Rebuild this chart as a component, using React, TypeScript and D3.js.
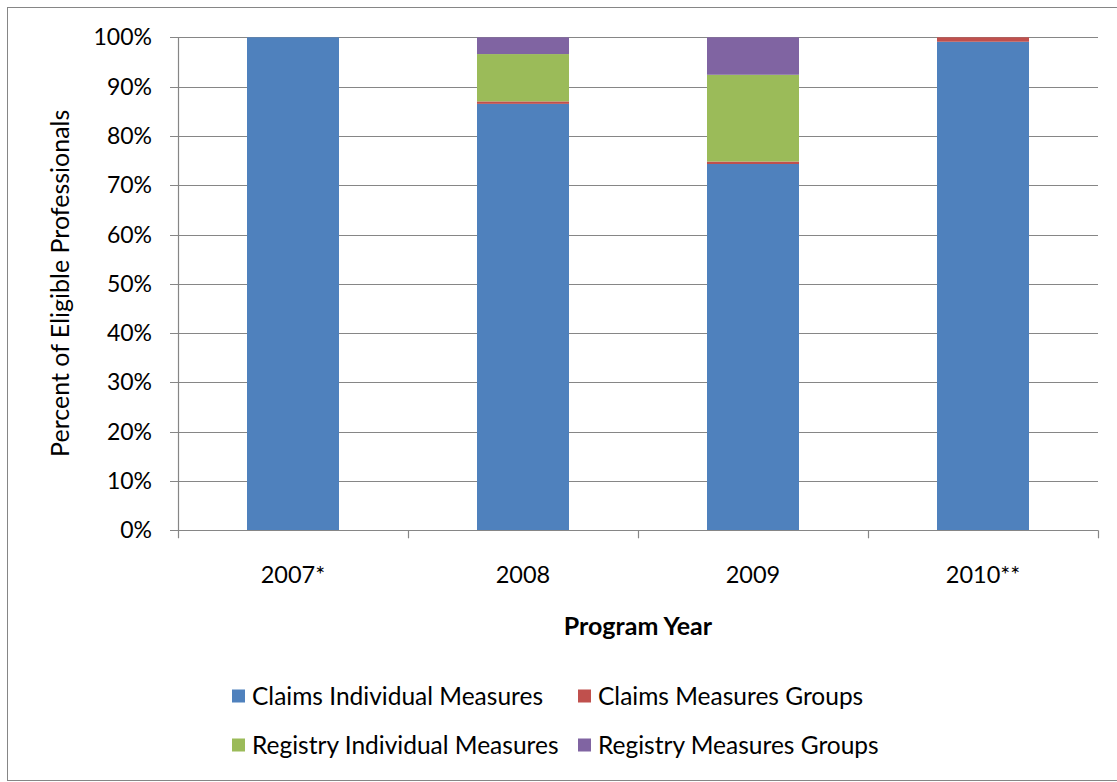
import * as d3 from 'd3';

const years = ['2007*', '2008', '2009', '2010**'];
const seriesNames = [
  'Claims Individual Measures',
  'Claims Measures Groups',
  'Registry Individual Measures',
  'Registry Measures Groups',
];
const claimsIndividual = [100, 86.5, 74.3, 99.1];
const claimsGroups = [0, 0.5, 0.5, 0.9];
const registryIndividual = [0, 9.6, 17.6, 0];
const registryGroups = [0, 3.4, 7.6, 0];
const yTicks = [0, 10, 20, 30, 40, 50, 60, 70, 80, 90, 100];
const colors = ['#4F81BD', '#C0504D', '#9BBB59', '#8064A2'];

const W = 1117;
const H = 782;
const font = 'Lato, "Open Sans", sans-serif';

export default function App() {
  const left = 178;
  const right = 1098;
  const top = 37.3;
  const bottom = 530.3;

  const x = d3.scaleBand<string>().domain(years).range([left, right]).paddingInner(0.6).paddingOuter(0.3);
  const xTick = d3.scaleBand<string>().domain(years).range([left, right]);
  const y = d3.scaleLinear().domain([0, 100]).range([bottom, top]);

  const rows = years.map((yr, i) => ({
    year: yr,
    ci: claimsIndividual[i],
    cg: claimsGroups[i],
    ri: registryIndividual[i],
    rg: registryGroups[i],
  }));
  const keys = ['ci', 'cg', 'ri', 'rg'];
  const stacked = d3.stack<any>().keys(keys)(rows);

  const legendItems = [
    { name: seriesNames[0], color: colors[0], lx: 232, ly: 696 },
    { name: seriesNames[1], color: colors[1], lx: 578, ly: 696 },
    { name: seriesNames[2], color: colors[2], lx: 232, ly: 745 },
    { name: seriesNames[3], color: colors[3], lx: 578, ly: 745 },
  ];

  return (
    <div style={{ position: 'absolute', left: 0, top: 0 }}>
      <svg width={W} height={H} style={{ display: 'block', fontFamily: font }}>
        <rect x={0} y={0} width={W} height={H} fill="#fff" />
        <rect x={7.5} y={7.5} width={W + 20} height={773} fill="none" stroke="#868686" strokeWidth={1} />

        {yTicks.map((t) => (
          <g key={t}>
            <line x1={170} x2={right} y1={Math.round(y(t)) + 0.5} y2={Math.round(y(t)) + 0.5} stroke="#868686" strokeWidth={1.2} />
            <text x={152} y={y(t)} dy="0.35em" textAnchor="end" fontSize={23} fill="#000">
              {t}%
            </text>
          </g>
        ))}

        {stacked.map((layer, si) =>
          layer.map((d, i) => {
            const h = y(d[0]) - y(d[1]);
            if (h <= 0) return null;
            return (
              <rect
                key={`${si}-${i}`}
                x={x(years[i])}
                y={y(d[1])}
                width={x.bandwidth()}
                height={h}
                fill={colors[si]}
              />
            );
          })
        )}

        <line x1={left + 0.5} x2={left + 0.5} y1={top} y2={bottom + 8} stroke="#868686" strokeWidth={1.2} />
        <line x1={left} x2={right} y1={Math.round(bottom) + 0.5} y2={Math.round(bottom) + 0.5} stroke="#868686" strokeWidth={1.2} />
        {years.map((yr) => (
          <line key={yr} x1={(xTick(yr) as number) + xTick.bandwidth() + 0.5} x2={(xTick(yr) as number) + xTick.bandwidth() + 0.5} y1={bottom} y2={bottom + 8} stroke="#868686" strokeWidth={1.2} />
        ))}
        {years.map((yr) => (
          <text key={yr} x={(xTick(yr) as number) + xTick.bandwidth() / 2} y={575} dy="0.35em" textAnchor="middle" fontSize={23.5} fill="#000">
            {yr}
          </text>
        ))}

        <text x={(left + right) / 2} y={626} dy="0.35em" textAnchor="middle" fontSize={25} fontWeight="bold" fill="#000">
          Program Year
        </text>
        <text transform={`translate(60, ${(top + bottom) / 2 - 0.5}) rotate(-90)`} dy="0.35em" textAnchor="middle" fontSize={25} fill="#000">
          Percent of Eligible Professionals
        </text>

        {legendItems.map((it) => (
          <g key={it.name}>
            <rect x={it.lx} y={it.ly - 6.5} width={13} height={13} fill={it.color} />
            <text x={it.lx + 20} y={it.ly} dy="0.35em" fontSize={24.5} fill="#000">
              {it.name}
            </text>
          </g>
        ))}
      </svg>
    </div>
  );
}
